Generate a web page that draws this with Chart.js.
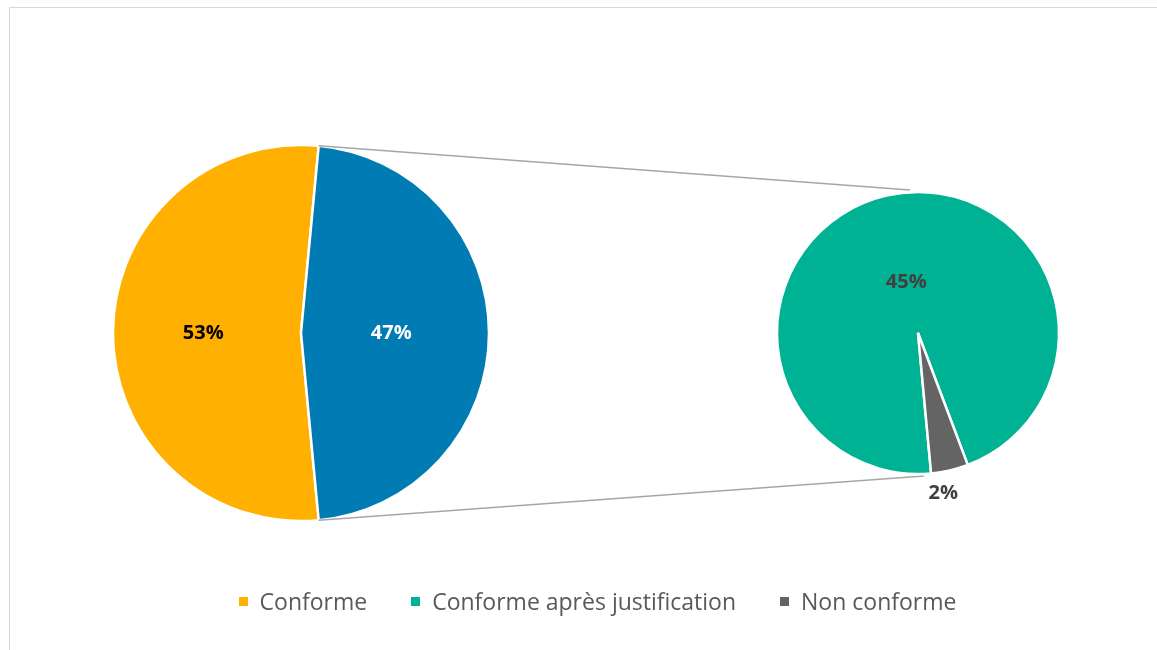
<!DOCTYPE html>
<html>
<head>
<meta charset="utf-8">
<script src="https://cdn.jsdelivr.net/npm/chart.js@4.4.1/dist/chart.umd.min.js"></script>
<style>
    body { margin: 0; background: #fff; overflow: hidden; }
    #wrap { position: relative; width: 1157px; height: 650px; }
    #frame {
        position: absolute; left: 9px; top: 7px; width: 1200px; height: 700px;
        border: 1px solid #D9D9D9; box-sizing: border-box;
    }
    canvas { position: absolute; left: 0; top: 0; }
    #legend {
        position: absolute; left: 19px; top: 585px; width: 1157px;
        display: flex; justify-content: center; align-items: center;
        font-family: "Open Sans", sans-serif; font-size: 23px; color: #595959;
    }
    .item { display: flex; align-items: center; margin: 0 22px; }
    .box { width: 9px; height: 9px; margin-right: 12px; }
</style>
</head>
<body>
<div id="wrap">
    <div id="frame"></div>
    <canvas id="mainPie" width="1157" height="650"></canvas>
    <canvas id="subPie" width="1157" height="650"></canvas>
    <div id="legend"></div>
</div>
<script>
// Main pie: Conforme vs everything else (which is split in the second pie)
const mainLabels = ['Conforme', 'Autres'];
const mainValues = [53, 47];

// Second pie: detail of the "other" slice
const subLabels = ['Conforme après justification', 'Non conforme'];
const subValues = [45, 2];

// Legend entries
const legendLabels = ['Conforme', 'Conforme après justification', 'Non conforme'];

const colors = {
    orange: '#FFB000',
    blue: '#007BB3',
    teal: '#00B294',
    gray: '#646464'
};
const legendColors = [colors.orange, colors.teal, colors.gray];

/**
 * Percentage labels drawn on each slice
 */
const pctLabels = {
    id: 'pctLabels',
    afterDatasetsDraw(chart, args, opts) {
        const ctx = chart.ctx;
        const meta = chart.getDatasetMeta(0);
        const values = chart.data.datasets[0].data;
        ctx.save();
        ctx.font = 'bold 20px "Open Sans", sans-serif';
        ctx.textAlign = 'center';
        ctx.textBaseline = 'middle';
        meta.data.forEach((arc, i) => {
            const mid = (arc.startAngle + arc.endAngle) / 2 + (opts.shift[i] || 0) * Math.PI / 180;
            const r = opts.outside[i] ? arc.outerRadius + opts.outside[i] : arc.outerRadius * opts.radius[i];
            const x = arc.x + Math.cos(mid) * r;
            const y = arc.y + Math.sin(mid) * r;
            ctx.fillStyle = opts.colors[i];
            ctx.fillText(values[i] + '%', x, y);
        });
        ctx.restore();
    }
};

// The "other" slice is centered on the right side of the main pie
const otherShare = mainValues[1] / (mainValues[0] + mainValues[1]);
const mainRotation = 90 - otherShare * 180 - (1 - otherShare) * 360;

const mainChart = new Chart(document.getElementById('mainPie'), {
    type: 'pie',
    data: {
        labels: mainLabels,
        datasets: [{
            data: mainValues,
            backgroundColor: [colors.orange, colors.blue],
            borderColor: '#fff',
            borderWidth: 2.5
        }]
    },
    options: {
        responsive: false,
        animation: false,
        events: [],
        rotation: mainRotation,
        radius: 188,
        layout: { padding: { left: 0, right: 555, top: 16, bottom: 0 } },
        plugins: {
            legend: { display: false },
            tooltip: { enabled: false },
            pctLabels: {
                radius: [0.52, 0.48],
                outside: [0, 0],
                shift: [0, 0],
                colors: ['#000000', '#FFFFFF']
            }
        }
    },
    plugins: [pctLabels]
});

/**
 * Grey connector lines between the two pies
 */
const connectors = {
    id: 'connectors',
    beforeDatasetsDraw(chart) {
        if (!mainChart) return;
        const other = mainChart.getDatasetMeta(0).data[1];
        const sub = chart.getDatasetMeta(0).data[0];
        const ctx = chart.ctx;
        const r1 = other.outerRadius;
        ctx.save();
        ctx.strokeStyle = '#A6A6A6';
        ctx.lineWidth = 1.5;
        ctx.beginPath();
        ctx.moveTo(other.x + Math.cos(other.startAngle) * r1, other.y + Math.sin(other.startAngle) * r1);
        ctx.lineTo(sub.x - 8, sub.y - sub.outerRadius - 2);
        ctx.moveTo(other.x + Math.cos(other.endAngle) * r1, other.y + Math.sin(other.endAngle) * r1);
        ctx.lineTo(sub.x + 6, sub.y + sub.outerRadius + 2);
        ctx.stroke();
        ctx.restore();
    }
};

// Small slice sits near the bottom of the second pie
const subShare = subValues[1] / (subValues[0] + subValues[1]);
const subRotation = 167 + subShare * 180;

new Chart(document.getElementById('subPie'), {
    type: 'pie',
    data: {
        labels: subLabels,
        datasets: [{
            data: subValues,
            backgroundColor: [colors.teal, colors.gray],
            borderColor: '#fff',
            borderWidth: 2.5
        }]
    },
    options: {
        responsive: false,
        animation: false,
        events: [],
        rotation: subRotation,
        radius: 141,
        layout: { padding: { left: 679, right: 0, top: 16, bottom: 0 } },
        plugins: {
            legend: { display: false },
            tooltip: { enabled: false },
            pctLabels: {
                radius: [0.37, 0],
                outside: [0, 21],
                shift: [0, 4],
                colors: ['#404040', '#404040']
            }
        }
    },
    plugins: [connectors, pctLabels]
});

// HTML legend
const legendEl = document.getElementById('legend');
legendLabels.forEach((label, i) => {
    const item = document.createElement('div');
    item.className = 'item';
    const box = document.createElement('span');
    box.className = 'box';
    box.style.background = legendColors[i];
    const text = document.createElement('span');
    text.textContent = label;
    item.appendChild(box);
    item.appendChild(text);
    legendEl.appendChild(item);
});
</script>
</body>
</html>
